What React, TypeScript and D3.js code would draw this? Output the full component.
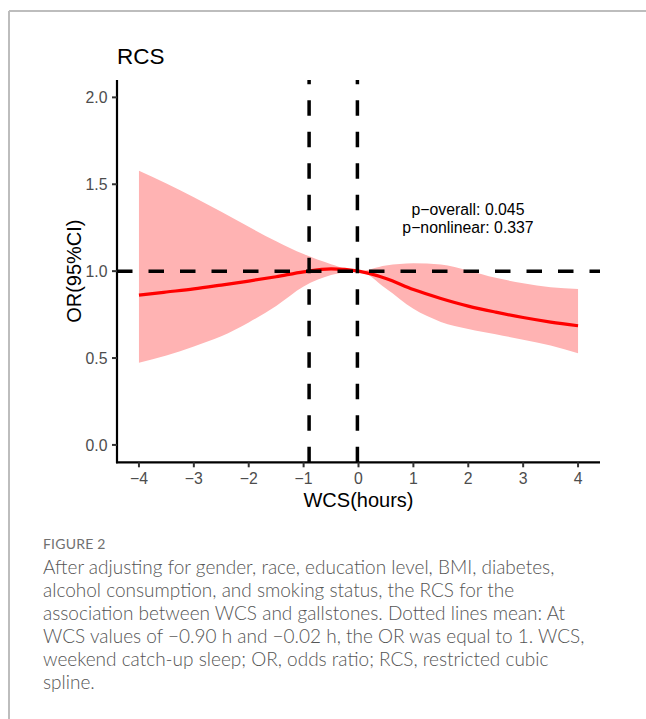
import React from "react";
import * as d3 from "d3";

const wcs = [-4, -3.5, -3, -2.5, -2, -1.5, -1, -0.5, 0, 0.5, 1, 1.5, 2, 2.5, 3, 3.5, 4];
const orValues = [0.862, 0.88, 0.898, 0.92, 0.943, 0.968, 0.996, 1.013, 1.0, 0.958, 0.894, 0.843, 0.799, 0.764, 0.733, 0.707, 0.686];
const upperCI = [1.578, 1.505, 1.425, 1.342, 1.255, 1.172, 1.098, 1.04, 1.0, 1.032, 1.045, 1.038, 1.003, 0.962, 0.93, 0.907, 0.897];
const lowerCI = [0.473, 0.515, 0.567, 0.625, 0.705, 0.8, 0.912, 0.978, 1.0, 0.9, 0.783, 0.708, 0.667, 0.637, 0.605, 0.572, 0.527];
const xTicks = [-4, -3, -2, -1, 0, 1, 2, 3, 4];
const yTicks = [0, 0.5, 1, 1.5, 2];
const refLinesX = [-0.9, -0.02];
const refLineY = 1;
const annotation = ["p\u2212overall: 0.045", "p\u2212nonlinear: 0.337"];
const captionTitle = "FIGURE 2";
const captionLines = [
  "After adjusting for gender, race, education level, BMI, diabetes,",
  "alcohol consumption, and smoking status, the RCS for the",
  "association between WCS and gallstones. Dotted lines mean: At",
  "WCS values of \u22120.90 h and \u22120.02 h, the OR was equal to 1. WCS,",
  "weekend catch-up sleep; OR, odds ratio; RCS, restricted cubic",
  "spline.",
];

const fmtX = (v: number) => (v < 0 ? "\u2212" + Math.abs(v) : String(v));
const fmtY = (v: number) => v.toFixed(1);

export default function App() {
  const W = 646, H = 719;
  const x = d3.scaleLinear().domain([-4.4, 4.4]).range([117, 600]);
  const y = d3.scaleLinear().domain([-0.1, 2.1]).range([462.3, 80]);
  const pts = wcs.map((v, i) => ({ x: v, m: orValues[i], lo: lowerCI[i], hi: upperCI[i] }));
  const area = d3
    .area<any>()
    .x((d) => x(d.x))
    .y0((d) => y(d.lo))
    .y1((d) => y(d.hi))
    .curve(d3.curveMonotoneX);
  const line = d3
    .line<any>()
    .x((d) => x(d.x))
    .y((d) => y(d.m))
    .curve(d3.curveMonotoneX);
  const [x0, x1] = x.range();
  const [yb, yt] = y.range();
  const font = "'Liberation Sans', Arial, Helvetica, sans-serif";
  const capFont = "Lato, 'Open Sans', sans-serif";
  return (
    <svg width={W} height={H} style={{ position: "absolute", left: 0, top: 0, background: "#fff" }}>
      {/* frame */}
      <line x1={9} y1={11} x2={646} y2={11} stroke="#bdbdbd" strokeWidth={2} />
      <line x1={9} y1={11} x2={9} y2={719} stroke="#bdbdbd" strokeWidth={2} />

      <text x={117} y={64} fontFamily={font} fontSize={22.5} fill="#000">RCS</text>

      <path d={area(pts) || ""} fill="#ffb3b3" stroke="none" />
      <path d={line(pts) || ""} fill="none" stroke="#ff0000" strokeWidth={3.2} />

      {/* reference lines */}
      <line x1={x0} x2={x1} y1={y(refLineY)} y2={y(refLineY)} stroke="#000" strokeWidth={3.5} strokeDasharray="15.5 16" />
      {refLinesX.map((v) => (
        <line key={v} x1={x(v)} x2={x(v)} y1={yb} y2={yt} stroke="#000" strokeWidth={3.5} strokeDasharray="15.5 16" />
      ))}

      {/* annotation */}
      {annotation.map((t, i) => (
        <text key={t} x={468} y={215 + i * 18} textAnchor="middle" fontFamily={font} fontSize={15.8} fill="#000">
          {t}
        </text>
      ))}

      {/* axes */}
      <line x1={x0} x2={x0} y1={yt} y2={yb + 1} stroke="#000" strokeWidth={2.2} />
      <line x1={x0 - 1} x2={x1} y1={yb} y2={yb} stroke="#000" strokeWidth={2.2} />
      {yTicks.map((v) => (
        <g key={v}>
          <line x1={x0 - 5} x2={x0} y1={y(v)} y2={y(v)} stroke="#333" strokeWidth={2} />
          <text x={x0 - 9.5} y={y(v) + 5.6} textAnchor="end" fontFamily={font} fontSize={15.8} fill="#4d4d4d">
            {fmtY(v)}
          </text>
        </g>
      ))}
      {xTicks.map((v) => (
        <g key={v}>
          <line x1={x(v)} x2={x(v)} y1={yb} y2={yb + 5} stroke="#333" strokeWidth={2} />
          <text x={x(v)} y={yb + 21.5} textAnchor="middle" fontFamily={font} fontSize={15.8} fill="#4d4d4d">
            {fmtX(v)}
          </text>
        </g>
      ))}
      <text x={(x0 + x1) / 2} y={506.5} textAnchor="middle" fontFamily={font} fontSize={20} fill="#000">
        WCS(hours)
      </text>
      <text
        transform={`translate(81, ${(yb + yt) / 2}) rotate(-90)`}
        textAnchor="middle"
        fontFamily={font}
        fontSize={20}
        fill="#000"
      >
        OR(95%CI)
      </text>

      {/* caption */}
      <text x={43} y={549} fontFamily={capFont} fontSize={14} fill="#707070" letterSpacing={0.2}>
        {captionTitle}
      </text>
      {captionLines.map((t, i) => (
        <text key={i} x={43} y={573.5 + i * 23} fontFamily={capFont} fontSize={19} fontWeight={300} fill="#555">
          {t}
        </text>
      ))}
    </svg>
  );
}
